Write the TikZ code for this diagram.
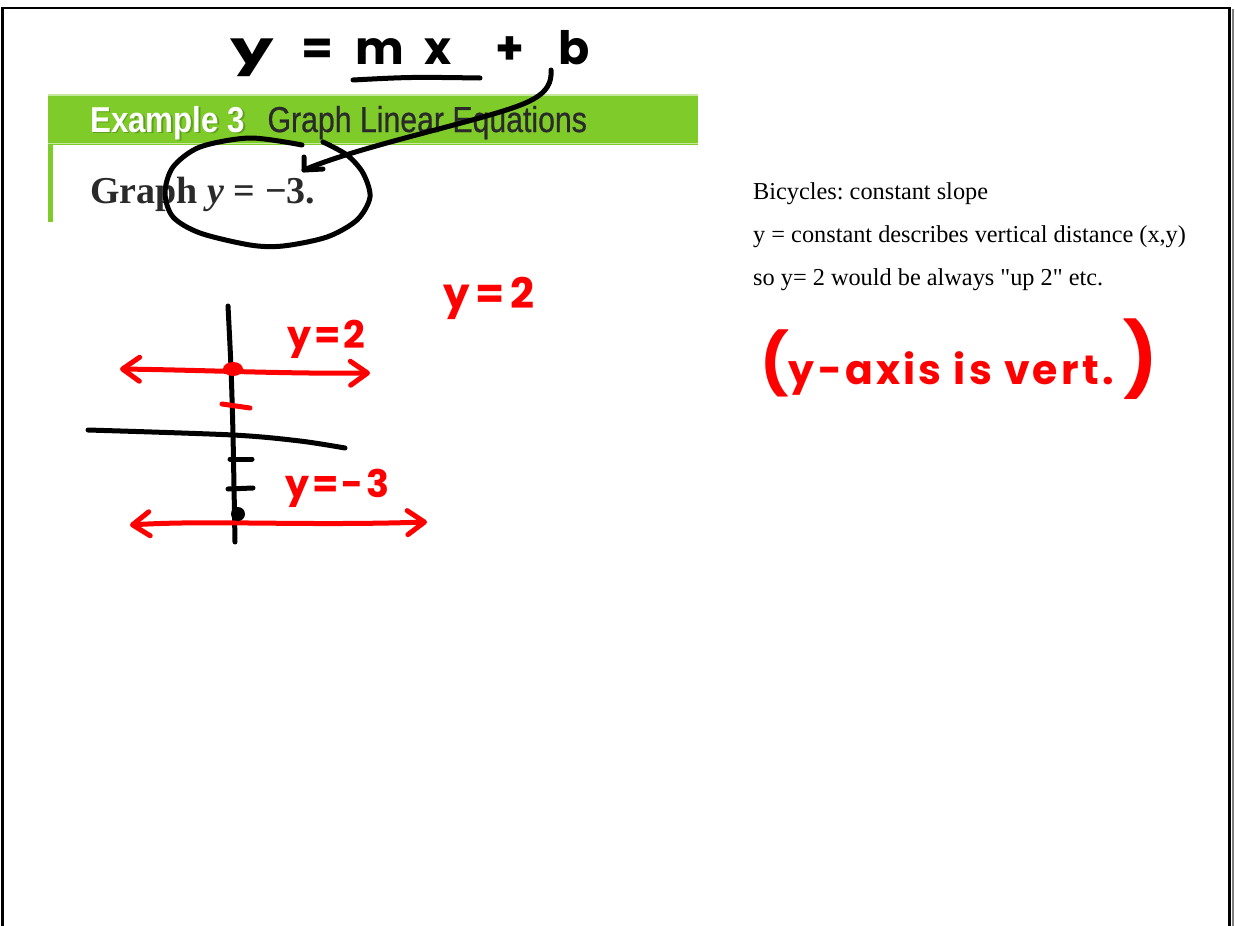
\documentclass[tikz,border=0pt]{standalone}
\usepackage{fontspec}
\setmainfont{Liberation Serif}[Ligatures=TeXOff]
\newfontfamily\bannerfont{Liberation Sans}
\newfontfamily\bannermid[FakeBold=0.7]{Liberation Sans}
\newfontfamily\handfont[LetterSpace=8]{Poppins}
\usepackage{graphicx}
\usepackage{xcolor}
\usepackage{tikz}
\usetikzlibrary{arrows.meta,positioning,calc}
\definecolor{bkgreen}{HTML}{7FCB2A}
\definecolor{bkshade}{HTML}{4F8E14}
\definecolor{bkink}{HTML}{2A2A2A}
\definecolor{penred}{HTML}{FF0000}
\frenchspacing
\tikzset{
  pen/.style={draw=black,line width=5pt,line cap=round,line join=round},
  redpen/.style={pen,draw=penred},
  redarr/.style={redpen,{Straight Barb[length=17pt,width=24pt,line cap=round,line join=round]}-{Straight Barb[length=17pt,width=24pt,line cap=round,line join=round]}},
  handtxt/.style={font=\handfont\bfseries\fontsize{38}{38}\selectfont,text=penred,inner sep=0pt,anchor=base west},
  note/.style={font=\fontsize{24.3}{28}\selectfont,inner sep=0pt,anchor=base west},
  bannertxt/.style={font=\bannerfont\fontsize{36}{36}\selectfont,inner sep=0pt,anchor=base west},
}
\begin{document}
\begin{tikzpicture}[x=1pt,y=-1pt]
\useasboundingbox (0,0) rectangle (1235,926);
\draw[line width=2.5pt] (2.5,926) -- (2.5,8) -- (1229.5,8) -- (1229.5,926);
\draw[gray,line width=2pt] (1232.5,9) -- (1232.5,926);

\fill[bkgreen] (48,94) rectangle (698,145);
\fill[bkgreen] (48,145) rectangle (52.5,222);
\draw[bkgreen!45,line width=1.5pt] (48,95) -- (698,95) (48,143.5) -- (698,143.5);
\node[bannertxt,text=bkshade,opacity=0.7] (exshadow) at (91.5,133.5) {\bfseries\scalebox{0.87}[1]{Example 3}};
\node[bannertxt,text=white] (exnum) at (90,132) {\bfseries\scalebox{0.87}[1]{Example 3}};
\node[bannertxt,font=\bannermid\fontsize{36}{36}\selectfont,text=bkink,base right=22pt of exnum] (extitle) {\scalebox{0.84}[1]{Graph Linear Equations}};
\node[anchor=base west,inner sep=0pt,text=bkink,font=\bfseries\fontsize{38}{38}\selectfont] (task) at (90,203) {Graph \textit{y} = −3.};

\node[anchor=base west,inner sep=0pt,font=\handfont\bfseries\fontsize{46}{46}\selectfont] (eqn) at (230,64)
  {\scalebox{1.5}[1]{y}\hspace{28pt}=\hspace{22pt}m\hspace{20pt}x\hspace{44pt}+\hspace{34pt}b};
\coordinate (ulL) at (353,80);
\coordinate (ulR) at (480,78);
\draw[pen] (ulL) .. controls (410,77) .. (ulR);
\coordinate (bfoot) at (551,70);
\coordinate (tipb) at (304,170);
\draw[pen] (bfoot) .. controls (553,96) and (528,104) .. (483,117) .. controls (430,132) and (345,152) .. (tipb);
\draw[pen] ($(tipb)+(0,-13)$) -- (tipb) -- ($(tipb)+(19,-1)$);
\draw[pen] plot[smooth] coordinates {(302,145) (250,138) (200,147) (173,167) (165,193) (173,217) (200,233) (250,245) (283,246) (327,237) (357,220) (370,197) (363,173) (347,155) (323,142)};

\draw[pen] plot[smooth] coordinates {(228,306) (231,368) (233,435) (235,542)};
\draw[pen] plot[smooth] coordinates {(88,430) (233,435) (300,441) (345,448)};
\draw[pen] (230,459) -- (252,459);
\draw[pen] (228,489) -- (253,488);
\draw[redpen] (222,404) -- (250,408);
\coordinate (r2l) at (120,369);
\coordinate (r2r) at (370,373);
\draw[redarr] (r2l) .. controls (200,370) and (290,374) .. (r2r);
\fill[penred] (233,369) ellipse [x radius=10, y radius=7];
\coordinate (r3l) at (130,525);
\coordinate (r3r) at (427,522);
\draw[redarr] (r3l) .. controls (210,520) and (300,526) .. (r3r);
\fill (238,514) circle [radius=7];

\node[handtxt] (lbltwo) at (287,348) {y=2};
\node[handtxt,font=\handfont\bfseries\fontsize{42}{42}\selectfont] (lbltop) at (443,308) {y\hspace{6pt}=\hspace{6pt}2};
\node[handtxt] (lblneg) at (285,497) {y=-3};

\node[note] (bike) at (753,199) {Bicycles: constant slope};
\node[note] (ydesc) at (753,242) {y = constant describes vertical distance (x,y)};
\node[note] (upnote) at (753,285) {so y= 2 would be always "up 2" etc.};
\node[handtxt,font=\handfont\bfseries\fontsize{41}{41}\selectfont] (vertnote) at (760,384)
  {{\fontsize{60}{60}\selectfont(}y-axis is vert.\hspace{10pt}{\fontsize{72}{72}\selectfont)}};
\end{tikzpicture}
\end{document}
